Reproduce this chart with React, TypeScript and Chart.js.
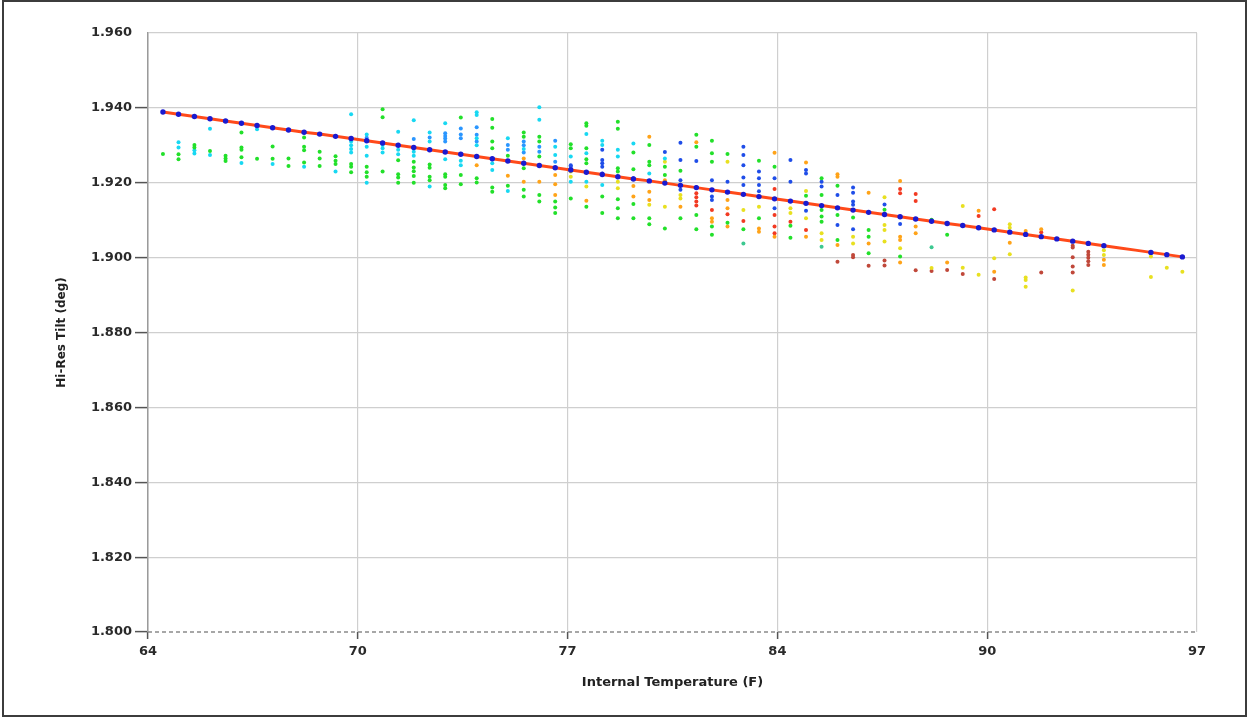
import { useEffect, useRef } from "react";
import { Chart, registerables } from "chart.js";

Chart.register(...registerables);

// Temperature bins (F) where the samples are grouped
const binTemps = [
  64.47, 64.96, 65.46, 65.95, 66.44, 66.94, 67.43, 67.92, 68.42, 68.91,
  69.4, 69.9, 70.39, 70.88, 71.38, 71.87, 72.36, 72.86, 73.35, 73.84,
  74.34, 74.83, 75.32, 75.82, 76.31, 76.81, 77.3, 77.79, 78.29, 78.78,
  79.27, 79.77, 80.26, 80.75, 81.25, 81.74, 82.23, 82.73, 83.22, 83.71,
  84.21, 84.7, 85.19, 85.69, 86.18, 86.67, 87.17, 87.66, 88.15, 88.65,
  89.14, 89.63, 90.13, 90.62, 91.11, 91.61, 92.1, 92.59, 93.09, 93.58,
  94.07, 94.57, 95.06, 95.55, 96.05, 96.54,
];

// Fitted tilt at each bin (line with dots)
const fitTilt = [
  1.9389, 1.9383, 1.9377, 1.9371, 1.9365, 1.9359, 1.9353, 1.9347, 1.9341, 1.9335,
  1.933, 1.9324, 1.9318, 1.9312, 1.9306, 1.93, 1.9294, 1.9288, 1.9282, 1.9276,
  1.927, 1.9264, 1.9258, 1.9252, 1.9246, 1.924, 1.9234, 1.9228, 1.9222, 1.9216,
  1.921, 1.9205, 1.9199, 1.9193, 1.9187, 1.9181, 1.9175, 1.9169, 1.9163, 1.9157,
  1.9151, 1.9145, 1.9139, 1.9133, 1.9127, 1.9121, 1.9115, 1.9109, 1.9103, 1.9097,
  1.9091, 1.9086, 1.908, 1.9074, 1.9068, 1.9062, 1.9056, 1.905, 1.9044, 1.9038,
  1.9032, 1.9026, 1.902, 1.9014, 1.9008, 1.9002,
];
const fitNoDot = [61, 62];

// Samples: [bin index, tilt]
const greenPts: [number, number][] = [
  [0, 1.9277], [1, 1.9276], [1, 1.9263], [2, 1.9301], [2, 1.9294], [3, 1.9285],
  [4, 1.9272], [4, 1.9265], [4, 1.9258], [5, 1.9334], [5, 1.9294], [5, 1.9288], [5, 1.9268],
  [6, 1.9264], [7, 1.9297], [7, 1.9264], [8, 1.9265], [8, 1.9245],
  [9, 1.9321], [9, 1.9296], [9, 1.9287], [9, 1.9254], [10, 1.9283], [10, 1.9265], [10, 1.9245],
  [11, 1.9271], [11, 1.9259], [11, 1.925], [12, 1.925], [12, 1.9243], [12, 1.9228],
  [13, 1.9243], [13, 1.9228], [13, 1.9216], [14, 1.9396], [14, 1.9375], [14, 1.923],
  [15, 1.926], [15, 1.9223], [15, 1.9214], [15, 1.92],
  [16, 1.9256], [16, 1.9241], [16, 1.9231], [16, 1.9218], [16, 1.92],
  [17, 1.9249], [17, 1.924], [17, 1.9216], [17, 1.9207],
  [18, 1.9223], [18, 1.9216], [18, 1.9194], [18, 1.9185], [19, 1.9374], [19, 1.9221], [19, 1.9196],
  [20, 1.9212], [20, 1.9201], [21, 1.937], [21, 1.9347], [21, 1.931], [21, 1.9292], [21, 1.9187], [21, 1.9176],
  [22, 1.9272], [22, 1.9192], [23, 1.9334], [23, 1.9323], [23, 1.9239], [23, 1.9181], [23, 1.9163],
  [24, 1.9323], [24, 1.931], [24, 1.927], [24, 1.9167], [24, 1.915],
  [25, 1.915], [25, 1.9134], [25, 1.9119], [26, 1.9303], [26, 1.9292], [26, 1.9158],
  [27, 1.9359], [27, 1.9352], [27, 1.9292], [27, 1.9263], [27, 1.9252], [27, 1.9136],
  [28, 1.9163], [28, 1.9119], [29, 1.9363], [29, 1.9344], [29, 1.9239], [29, 1.923], [29, 1.9156], [29, 1.9132], [29, 1.9105],
  [30, 1.9281], [30, 1.9236], [30, 1.9143], [30, 1.9105],
  [31, 1.9301], [31, 1.9256], [31, 1.9247], [31, 1.9105], [31, 1.9089],
  [32, 1.9243], [32, 1.9221], [32, 1.9078], [33, 1.9232], [33, 1.9105],
  [34, 1.9328], [34, 1.9296], [34, 1.9114], [34, 1.9076],
  [35, 1.9312], [35, 1.9279], [35, 1.9256], [35, 1.9083], [35, 1.9061],
  [36, 1.9277], [36, 1.9093], [37, 1.9076], [38, 1.9259], [38, 1.9105], [39, 1.9243],
  [40, 1.9085], [40, 1.9053], [41, 1.9165],
  [42, 1.9212], [42, 1.9167], [42, 1.9127], [42, 1.911], [42, 1.9096],
  [43, 1.9192], [43, 1.9114], [43, 1.9047], [44, 1.9107],
  [45, 1.9074], [45, 1.9056], [45, 1.9012], [46, 1.9128], [47, 1.9003], [49, 1.9101], [50, 1.9061],
];

const tealPts: [number, number][] = [
  [37, 1.9038], [42, 1.9029], [49, 1.9028],
];

const cyanPts: [number, number][] = [
  [1, 1.9308], [1, 1.9294], [2, 1.9287], [2, 1.9278], [3, 1.9344], [3, 1.9274],
  [5, 1.9253], [6, 1.9343], [7, 1.925], [9, 1.9243], [11, 1.923],
  [12, 1.9383], [12, 1.931], [12, 1.93], [12, 1.929], [12, 1.9281],
  [13, 1.9329], [13, 1.9296], [13, 1.9272], [13, 1.92],
  [14, 1.9301], [14, 1.9292], [14, 1.9281], [15, 1.9336], [15, 1.9288], [15, 1.9276],
  [16, 1.9367], [16, 1.9283], [16, 1.9272], [17, 1.9334], [17, 1.931], [17, 1.919],
  [18, 1.9359], [18, 1.9263], [19, 1.9259], [19, 1.9247],
  [20, 1.9388], [20, 1.9381], [20, 1.9319], [20, 1.93], [21, 1.9252], [21, 1.9234],
  [22, 1.9319], [22, 1.9178], [23, 1.929], [24, 1.9402], [24, 1.9368],
  [25, 1.9296], [25, 1.9274], [26, 1.927], [26, 1.9203],
  [27, 1.933], [27, 1.9279], [27, 1.9203], [28, 1.9312], [28, 1.9301], [28, 1.9194],
  [29, 1.9288], [29, 1.927], [30, 1.9305], [31, 1.9225], [32, 1.9265],
];

const azurePts: [number, number][] = [
  [13, 1.932], [16, 1.9317], [17, 1.9321],
  [18, 1.9332], [18, 1.9325], [18, 1.9318], [18, 1.931],
  [19, 1.9345], [19, 1.9329], [19, 1.9319], [20, 1.9348], [20, 1.9328], [20, 1.931],
  [21, 1.9265], [22, 1.9301], [22, 1.9288], [23, 1.931], [23, 1.93], [23, 1.9281],
  [24, 1.9296], [24, 1.9283], [25, 1.9312], [25, 1.9256],
];

const bluePts: [number, number][] = [
  [26, 1.9247], [26, 1.9243], [28, 1.9288], [28, 1.9261], [28, 1.9252], [28, 1.9243], [28, 1.9225],
  [30, 1.9212], [32, 1.9282], [33, 1.9307], [33, 1.9261], [33, 1.9207], [33, 1.9181],
  [34, 1.9258], [34, 1.9188], [35, 1.9207], [35, 1.9163], [35, 1.9154], [36, 1.9203],
  [37, 1.9296], [37, 1.9274], [37, 1.9247], [37, 1.9214], [37, 1.9194],
  [38, 1.923], [38, 1.9212], [38, 1.9194], [38, 1.9177], [39, 1.9212], [39, 1.9132],
  [40, 1.9261], [40, 1.9203], [41, 1.9234], [41, 1.9225], [41, 1.9125],
  [42, 1.9203], [42, 1.919], [43, 1.9167], [43, 1.9087],
  [44, 1.9187], [44, 1.9173], [44, 1.915], [44, 1.9141], [44, 1.9076], [46, 1.9142], [47, 1.909],
];

const yellowPts: [number, number][] = [
  [26, 1.923], [26, 1.9216], [27, 1.919], [29, 1.9203], [29, 1.9185], [31, 1.9141],
  [32, 1.9256], [32, 1.9136], [33, 1.9167], [33, 1.9158], [36, 1.9256], [37, 1.9127], [38, 1.9136],
  [40, 1.9132], [40, 1.9119], [41, 1.9178], [41, 1.9105], [42, 1.9065], [42, 1.9047],
  [44, 1.9056], [44, 1.9038], [46, 1.9161], [46, 1.9087], [46, 1.9074], [46, 1.9043],
  [47, 1.9025], [49, 1.8972], [51, 1.9138], [51, 1.8973], [52, 1.8954], [53, 1.8998],
  [54, 1.9089], [54, 1.908], [54, 1.9009], [55, 1.8947], [55, 1.894], [55, 1.8922],
  [58, 1.8912], [60, 1.902], [60, 1.9007], [63, 1.9003], [63, 1.8948], [64, 1.8973], [65, 1.8962],
];

const orangePts: [number, number][] = [
  [20, 1.9247], [22, 1.9219], [23, 1.9265], [23, 1.9203], [24, 1.9203],
  [25, 1.9221], [25, 1.9196], [25, 1.9167], [27, 1.9152], [30, 1.9191], [30, 1.9163],
  [31, 1.9323], [31, 1.9176], [31, 1.9154], [32, 1.9207], [33, 1.9136], [34, 1.9308],
  [35, 1.9105], [35, 1.9096], [36, 1.9154], [36, 1.9132], [36, 1.9083],
  [38, 1.9078], [38, 1.9069], [39, 1.928], [39, 1.9056], [41, 1.9254], [41, 1.9056],
  [43, 1.9223], [43, 1.9216], [43, 1.9034], [45, 1.9173], [45, 1.9038],
  [47, 1.9205], [47, 1.9056], [47, 1.9047], [47, 1.8987], [48, 1.9083], [48, 1.9065],
  [50, 1.8987], [52, 1.9125], [53, 1.8962], [54, 1.904], [55, 1.9071], [56, 1.9076],
  [60, 1.8994], [60, 1.898],
];

const redPts: [number, number][] = [
  [34, 1.9172], [34, 1.9161], [34, 1.915], [34, 1.9139], [35, 1.9127], [36, 1.9116], [37, 1.9098],
  [39, 1.9183], [39, 1.9114], [39, 1.9083], [39, 1.9065], [40, 1.9096], [41, 1.9074],
  [47, 1.9183], [47, 1.9172], [48, 1.917], [48, 1.9151], [52, 1.9111], [53, 1.9129], [56, 1.9068],
];

const darkRedPts: [number, number][] = [
  [43, 1.8989], [44, 1.9007], [44, 1.9001], [45, 1.8978], [46, 1.8992], [46, 1.8979],
  [48, 1.8966], [49, 1.8964], [50, 1.8967], [51, 1.8956], [53, 1.8943], [56, 1.896],
  [58, 1.9032], [58, 1.9027], [58, 1.9001], [58, 1.8976], [58, 1.896],
  [59, 1.9016], [59, 1.9008], [59, 1.9], [59, 1.899], [59, 1.898],
];

const xTickValues = [64, 70.6, 77.2, 83.8, 90.4, 97];
const xTickLabels = ["64", "70", "77", "84", "90", "97"];
const yTickValues = [1.8, 1.82, 1.84, 1.86, 1.88, 1.9, 1.92, 1.94, 1.96];

const FONT = "'DejaVu Sans', Verdana, sans-serif";

// Dashed bottom axis line (the x axis baseline)
const dashedBaseline = {
  id: "dashedBaseline",
  beforeDatasetsDraw(chart: any) {
    const { ctx, chartArea } = chart;
    ctx.save();
    ctx.strokeStyle = "#8a8a8a";
    ctx.lineWidth = 1.5;
    ctx.setLineDash([4, 3]);
    ctx.beginPath();
    ctx.moveTo(chartArea.left, chartArea.bottom);
    ctx.lineTo(chartArea.right, chartArea.bottom);
    ctx.stroke();
    ctx.restore();
  },
};

export default function App() {
  const canvasRef = useRef<HTMLCanvasElement | null>(null);

  useEffect(() => {
    const canvas = canvasRef.current;
    if (!canvas) return;

    const toXY = (pts: [number, number][]) =>
      pts.map(([b, y]) => ({ x: binTemps[b], y }));
    const scatterSet = (pts: [number, number][], color: string) => ({
      type: "scatter" as const,
      data: toXY(pts),
      backgroundColor: color,
      borderColor: color,
      borderWidth: 0,
      pointRadius: 2,
      order: 2,
    });

    const chart = new Chart(canvas, {
      type: "scatter",
      data: {
        datasets: [
          {
            type: "scatter",
            data: binTemps.map((t, i) => ({ x: t, y: fitTilt[i] })),
            showLine: true,
            borderColor: "#ff4a1a",
            borderWidth: 3,
            backgroundColor: "#1a1ad0",
            pointBackgroundColor: "#1a1ad0",
            pointBorderWidth: 0,
            pointRadius: (ctx: any) => (fitNoDot.includes(ctx.dataIndex) ? 0 : 2.7),
            order: 0,
          } as any,
          scatterSet(greenPts, "#22e02a"),
          scatterSet(tealPts, "#3cc890"),
          scatterSet(cyanPts, "#18d8f2"),
          scatterSet(azurePts, "#2a96ff"),
          scatterSet(bluePts, "#1f4de8"),
          scatterSet(yellowPts, "#e8e020"),
          scatterSet(orangePts, "#ffa318"),
          scatterSet(redPts, "#f23a22"),
          scatterSet(darkRedPts, "#c0483a"),
        ],
      },
      plugins: [dashedBaseline],
      options: {
        animation: false,
        responsive: false,
        devicePixelRatio: 1,
        layout: { padding: { top: 33, right: 53, left: 0, bottom: 0 } },
        plugins: { legend: { display: false }, tooltip: { enabled: false } },
        scales: {
          x: {
            type: "linear",
            min: 64,
            max: 97,
            afterBuildTicks: (s: any) => {
              s.ticks = xTickValues.map((v) => ({ value: v }));
            },
            afterFit: (s: any) => {
              s.height = 87;
            },
            ticks: {
              autoSkip: false,
              maxRotation: 0,
              padding: 5,
              color: "#2a2a2a",
              font: { family: FONT, size: 13, weight: "bold" },
              callback: (_v: any, i: number) => xTickLabels[i],
            },
            grid: {
              color: "#cfcfcf",
              lineWidth: 1.2,
              tickLength: 7,
              tickWidth: 1.5,
              tickColor: (ctx: any) =>
                ctx.tick && ctx.tick.value === 97 ? "rgba(0,0,0,0)" : "#555",
            },
            border: { display: false },
            title: {
              display: true,
              text: "Internal Temperature (F)",
              color: "#222",
              font: { family: FONT, size: 13, weight: "bold" },
              padding: { top: 0, bottom: 29 },
            },
          },
          y: {
            type: "linear",
            min: 1.8,
            max: 1.96,
            afterBuildTicks: (s: any) => {
              s.ticks = yTickValues.map((v) => ({ value: v }));
            },
            afterFit: (s: any) => {
              s.width = 148;
            },
            ticks: {
              padding: 3,
              color: "#2a2a2a",
              font: { family: FONT, size: 13, weight: "bold" },
              callback: (v: any) => Number(v).toFixed(3),
            },
            grid: {
              color: (ctx: any) =>
                ctx.tick && Math.abs(ctx.tick.value - 1.8) < 1e-9 ? "rgba(0,0,0,0)" : "#cfcfcf",
              lineWidth: 1.2,
              tickLength: 13,
              tickWidth: 1.5,
              tickColor: (ctx: any) =>
                ctx.tick && Math.abs(ctx.tick.value - 1.96) < 1e-9 ? "rgba(0,0,0,0)" : "#555",
            },
            border: { display: true, color: "#9a9a9a", width: 1.5 },
            title: {
              display: true,
              text: "Hi-Res Tilt (deg)",
              color: "#222",
              font: { family: FONT, size: 12, weight: "bold" },
              padding: { top: 55, bottom: 0 },
            },
          },
        },
      } as any,
    });

    return () => chart.destroy();
  }, []);

  return (
    <>
      <canvas
        ref={canvasRef}
        width={1250}
        height={719}
        style={{ position: "fixed", left: 0, top: 0, width: 1250, height: 719, background: "#fff" }}
      />
      <div
        style={{
          position: "fixed",
          left: 2,
          top: 0,
          width: 1241,
          height: 713,
          border: "2px solid #3c3c3c",
          pointerEvents: "none",
        }}
      />
    </>
  );
}
